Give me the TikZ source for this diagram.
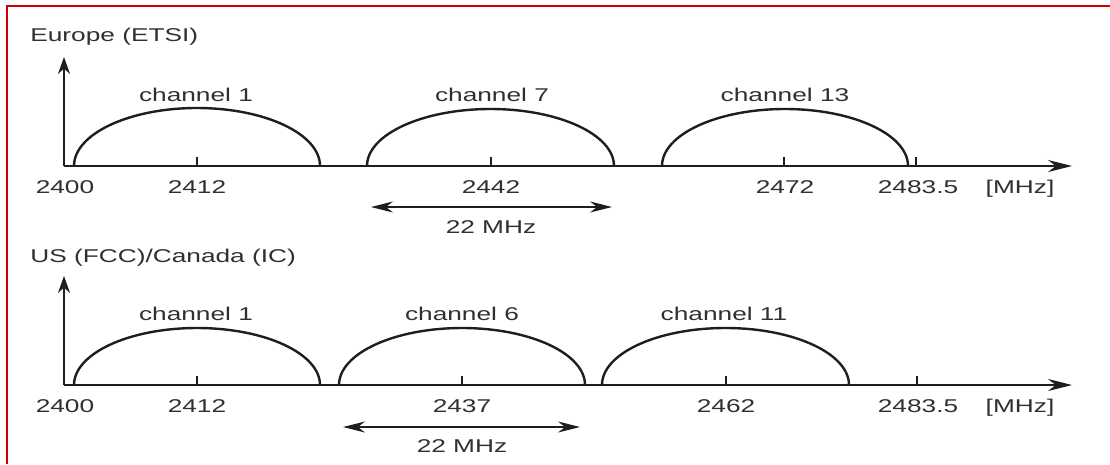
\documentclass[tikz,border=0pt]{standalone}
\usepackage{fontspec}
\setmainfont{Liberation Sans}
\usetikzlibrary{arrows.meta}
\definecolor{ink}{HTML}{1E1E1E}
\definecolor{txt}{HTML}{303030}
\definecolor{framered}{HTML}{D00000}
\begin{document}
\begin{tikzpicture}[x=1pt,y=-1pt,
  lbl/.style={font=\fontsize{18.5}{20}\selectfont, text=txt, inner sep=0pt, xscale=1.42, transform shape, anchor=base},
  lblw/.style={lbl, anchor=base west},
  axis/.style={draw=ink, line width=1.8pt},
  band/.style={draw=ink, line width=2.4pt},
  tickmark/.style={draw=ink, line width=1.4pt},
  yarrow/.style={axis, -{Stealth[length=17pt,width=12pt]}},
  xarrow/.style={axis, -{Stealth[length=24pt,width=12pt]}},
  dim/.style={draw=ink, line width=1.3pt, {Stealth[length=22pt,width=11pt]}-{Stealth[length=22pt,width=11pt]}}
]
\useasboundingbox (0,0) rectangle (1110,464);
\fill[white] (0,0) rectangle (1110,464);
\draw[framered, line width=2pt] (7,464) -- (7,6) -- (1110,6);

% ---------- Europe (ETSI) ----------
\node[lblw] (t1) at (30,41) {Europe (ETSI)};
\coordinate (o1) at (64,166);
\coordinate (y1) at (64,57);
\coordinate (x1) at (1072,166);
\draw[yarrow] (o1) -- (y1);
\draw[xarrow] (o1) -- (x1);

\coordinate (e1s) at (74,166);
\coordinate (e7s) at (367,166);
\coordinate (e13s) at (662,166);
\draw[band] (e1s) arc[start angle=180, end angle=360, x radius=123, y radius=58];
\draw[band] (e7s) arc[start angle=180, end angle=360, x radius=123.5, y radius=57];
\draw[band] (e13s) arc[start angle=180, end angle=360, x radius=123, y radius=57];

\foreach \xx in {197,491,784,916} {
  \draw[tickmark] (\xx,166) -- (\xx,157);
}

\node[lbl] (ec1) at (196,101) {channel 1};
\node[lbl] (ec7) at (492,101) {channel 7};
\node[lbl] (ec13) at (785,101) {channel 13};

\node[lbl] (ev0) at (65,193) {2400};
\node[lbl] (ev1) at (197,193) {2412};
\node[lbl] (ev7) at (491,193) {2442};
\node[lbl] (ev13) at (785,193) {2472};
\node[lbl] (evend) at (918,193) {2483.5};
\node[lbl] (eunit) at (1020,193) {[MHz]};

\coordinate (ed1) at (371,207);
\coordinate (ed2) at (612,207);
\draw[dim] (ed1) -- (ed2);
\node[lbl] (ew) at (491,233) {22 MHz};

% ---------- US (FCC)/Canada (IC) ----------
\node[lblw] (t2) at (30,262) {US (FCC)/Canada (IC)};
\coordinate (o2) at (64,385);
\coordinate (y2) at (64,276);
\coordinate (x2) at (1072,385);
\draw[yarrow] (o2) -- (y2);
\draw[xarrow] (o2) -- (x2);

\coordinate (u1s) at (74,385);
\coordinate (u6s) at (339,385);
\coordinate (u11s) at (602,385);
\draw[band] (u1s) arc[start angle=180, end angle=360, x radius=123, y radius=57];
\draw[band] (u6s) arc[start angle=180, end angle=360, x radius=123, y radius=57];
\draw[band] (u11s) arc[start angle=180, end angle=360, x radius=123.5, y radius=57];

\foreach \xx in {197,462,726,917} {
  \draw[tickmark] (\xx,385) -- (\xx,376);
}

\node[lbl] (uc1) at (196,320) {channel 1};
\node[lbl] (uc6) at (462,320) {channel 6};
\node[lbl] (uc11) at (724,320) {channel 11};

\node[lbl] (uv0) at (65,412) {2400};
\node[lbl] (uv1) at (197,412) {2412};
\node[lbl] (uv6) at (462,412) {2437};
\node[lbl] (uv11) at (726,412) {2462};
\node[lbl] (uvend) at (918,412) {2483.5};
\node[lbl] (uunit) at (1020,412) {[MHz]};

\coordinate (ud1) at (343,427);
\coordinate (ud2) at (580,427);
\draw[dim] (ud1) -- (ud2);
\node[lbl] (uw) at (462,452) {22 MHz};
\end{tikzpicture}
\end{document}
